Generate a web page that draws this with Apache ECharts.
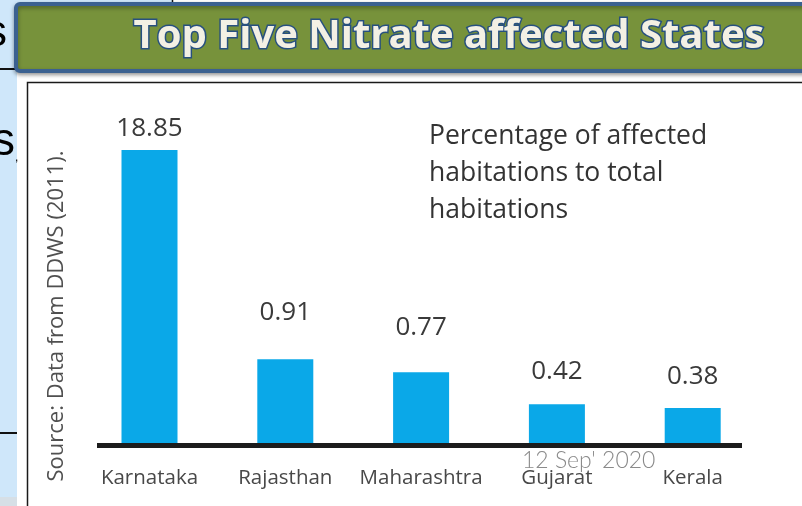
<!DOCTYPE html>
<html>
<head>
<meta charset="utf-8">
<script src="https://cdn.jsdelivr.net/npm/echarts@6/dist/echarts.min.js"></script>
<style>
  html, body { margin: 0; padding: 0; background: #ffffff; }
  #chart { width: 802px; height: 506px; }
</style>
</head>
<body>
<div id="chart"></div>
<script>
// Share of habitations affected by nitrate, top five states
const states = ['Karnataka', 'Rajasthan', 'Maharashtra', 'Gujarat', 'Kerala'];
const affectedPct = [18.85, 0.91, 0.77, 0.42, 0.38];
const titleText = 'Top Five Nitrate affected States';
const noteLines = ['Percentage of affected', 'habitations to total', 'habitations'];
const sourceText = 'Source: Data from DDWS (2011).';
const stampText = "12 Sep' 2020";

// distance from each value label to the top of its bar
const labelGaps = [8, 34, 32, 20, 18];

const FONT = '"Open Sans", "Noto Sans", sans-serif';

const chart = echarts.init(document.getElementById('chart'), null, { renderer: 'canvas' });

chart.setOption({
  animation: false,
  backgroundColor: '#ffffff',
  grid: { left: 81.6, right: 41.4, top: 150, bottom: 63, containLabel: false },
  xAxis: {
    type: 'category',
    data: states,
    axisLine: { show: false },
    axisTick: { show: false },
    axisLabel: {
      interval: 0,
      hideOverlap: false,
      margin: 25,
      color: '#484848',
      fontSize: 20.5,
      fontFamily: FONT
    }
  },
  yAxis: {
    type: 'value',
    min: 0,
    max: 18.85,
    // the tall Karnataka bar is shortened by a hidden break in the scale
    breaks: [{ start: 1.2, end: 16.865, gap: 0 }],
    breakArea: { show: false },
    axisLine: { show: false },
    axisTick: { show: false },
    axisLabel: { show: false },
    splitLine: { show: false }
  },
  series: [{
    type: 'bar',
    barWidth: 56,
    itemStyle: { color: '#0aa8e8' },
    data: affectedPct.map((v, i) => ({
      value: v,
      label: { distance: labelGaps[i] }
    })),
    label: {
      show: true,
      position: 'top',
      color: '#3a3a3a',
      fontSize: 26,
      fontFamily: FONT,
      formatter: p => p.value.toFixed(2)
    },
    z: 3
  }],
  graphic: [
    // slide background strip on the left
    { type: 'rect', z: -10, shape: { x: 0, y: 0, width: 17, height: 506 }, style: { fill: '#cfe7fa' } },
    { type: 'rect', z: -10, shape: { x: 0, y: 497, width: 17, height: 9 }, style: { fill: '#d6dfe6' } },
    { type: 'rect', z: -10, shape: { x: 0, y: 0, width: 172, height: 4 }, style: { fill: '#cfe7fa' } },
    { type: 'line', z: -9, shape: { x1: 172.5, y1: 0, x2: 172.5, y2: 4 }, style: { stroke: '#111', lineWidth: 1.5 } },
    { type: 'line', z: -9, shape: { x1: 0, y1: 69, x2: 17, y2: 69 }, style: { stroke: '#111', lineWidth: 2 } },
    { type: 'line', z: -9, shape: { x1: 0, y1: 433, x2: 17, y2: 433 }, style: { stroke: '#111', lineWidth: 2 } },
    { type: 'text', z: -9, style: { x: 7, y: 34, text: 's', fill: '#000', font: '44px "Liberation Sans", Arial, sans-serif', align: 'right', verticalAlign: 'middle' } },
    { type: 'text', z: -9, style: { x: 15, y: 142, text: 's', fill: '#000', font: '46px "Liberation Sans", Arial, sans-serif', align: 'right', verticalAlign: 'middle' } },
    { type: 'text', z: -9, style: { x: 15, y: 158, text: ',', fill: '#000', font: '12px "Liberation Sans", Arial, sans-serif', align: 'left', verticalAlign: 'middle' } },

    // title banner
    {
      type: 'rect', z: 5,
      shape: { x: 16, y: 4, width: 800, height: 67, r: [4, 0, 0, 4] },
      style: { fill: '#77923b', stroke: '#3b6190', lineWidth: 4, shadowBlur: 4, shadowColor: 'rgba(0,0,0,0.35)', shadowOffsetY: 2 }
    },
    {
      type: 'text', z: 6,
      style: {
        x: 449, y: 37, text: titleText,
        font: 'bold 40px "Open Sans", "Noto Sans", sans-serif',
        fill: '#f3f0e4', stroke: '#27507f', lineWidth: 3, strokeFirst: true,
        align: 'center', verticalAlign: 'middle',
        shadowBlur: 3, shadowColor: 'rgba(0,0,0,0.4)', shadowOffsetX: 1, shadowOffsetY: 2
      }
    },

    // chart frame
    { type: 'rect', z: -8, shape: { x: 27.5, y: 82.5, width: 800, height: 450 }, style: { fill: '#ffffff', stroke: '#1a1a1a', lineWidth: 1.5 } },

    // baseline under the bars
    { type: 'rect', z: 4, shape: { x: 97, y: 443, width: 645, height: 5 }, style: { fill: '#1c1c1c' } },

    // rotated source note
    {
      type: 'text', z: 4, x: 57, y: 316, rotation: Math.PI / 2,
      style: { text: sourceText, fill: '#505050', font: '22px "Open Sans", "Noto Sans", sans-serif', align: 'center', verticalAlign: 'middle' }
    },

    // unit note
    {
      type: 'text', z: 4,
      style: {
        x: 429, y: 118, text: noteLines.join('\n'),
        fill: '#333333', font: '26.5px "Open Sans", "Noto Sans", sans-serif',
        lineHeight: 37, align: 'left', verticalAlign: 'top'
      }
    },

    // date stamp
    {
      type: 'text', z: 7,
      style: { x: 522, y: 461, text: stampText, fill: '#8a8a8a', font: '300 23px Lato, "Open Sans", sans-serif', align: 'left', verticalAlign: 'middle' }
    }
  ]
});
</script>
</body>
</html>
